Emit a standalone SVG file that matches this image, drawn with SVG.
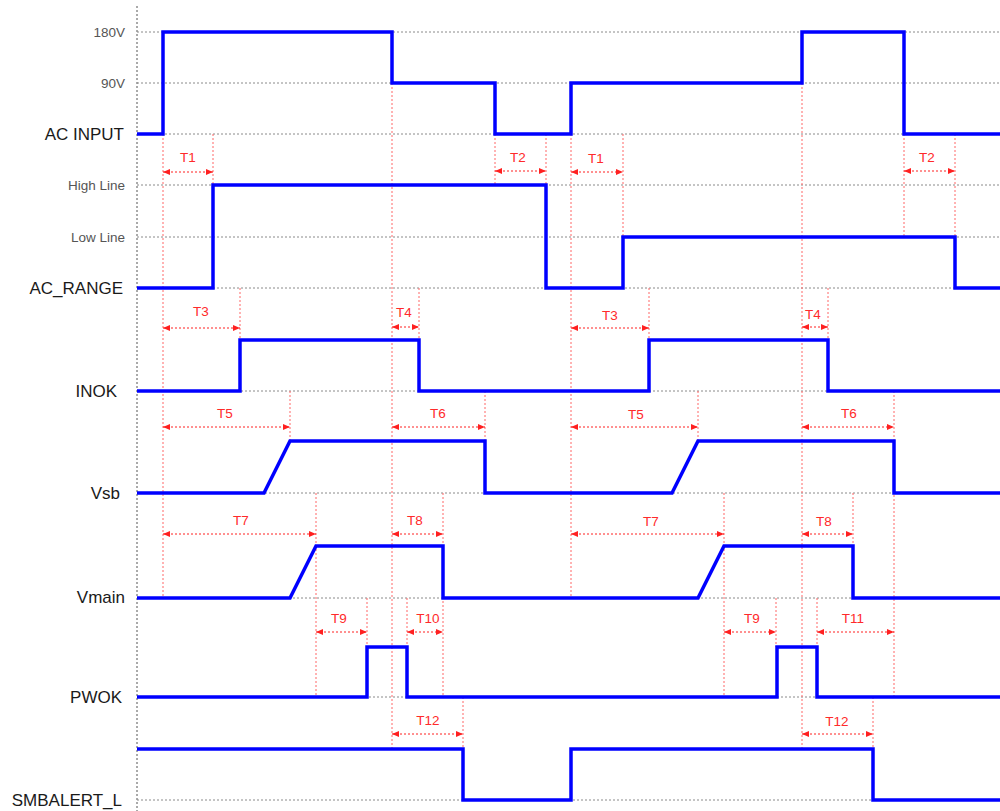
<svg xmlns="http://www.w3.org/2000/svg" width="1000" height="811" viewBox="0 0 1000 811">
<style>
.grid{stroke:#8a8a8a;stroke-width:1;stroke-dasharray:2,2;fill:none}
.axis{stroke:#555;stroke-width:1;stroke-dasharray:2,2;fill:none}
.guide{stroke:#ff6666;stroke-width:1;stroke-dasharray:2,2;fill:none}
.dim{stroke:#ff2020;stroke-width:1;stroke-dasharray:2,2;fill:none;marker-start:url(#ah);marker-end:url(#ah)}
.wave{stroke:#0000ff;stroke-width:3.5;fill:none;stroke-linejoin:miter;stroke-linecap:butt}
.big{font-family:"Liberation Sans",Arial,sans-serif;font-size:17px;fill:#1a1a1a;text-anchor:end}
.small{font-family:"Liberation Sans",Arial,sans-serif;font-size:13.5px;fill:#555;text-anchor:end}
.tl{font-family:"Liberation Sans",Arial,sans-serif;font-size:13.5px;fill:#ff2a2a;text-anchor:middle}
</style>
<defs>
<marker id="ah" viewBox="0 0 7 6" refX="7" refY="3" markerWidth="7" markerHeight="6" markerUnits="userSpaceOnUse" orient="auto-start-reverse">
<path d="M0,0 L7,3 L0,6 z" fill="#ff2020"/>
</marker>
</defs>
<rect width="1000" height="811" fill="#fff"/>
<g id="grid">
<line class="axis" x1="137" y1="6" x2="137" y2="811"/>
<line class="grid" x1="137" y1="32" x2="1000" y2="32"/>
<line class="grid" x1="137" y1="83" x2="1000" y2="83"/>
<line class="grid" x1="137" y1="134" x2="1000" y2="134"/>
<line class="grid" x1="137" y1="185" x2="1000" y2="185"/>
<line class="grid" x1="137" y1="237" x2="1000" y2="237"/>
<line class="grid" x1="137" y1="288" x2="1000" y2="288"/>
<line class="grid" x1="137" y1="391" x2="1000" y2="391"/>
<line class="grid" x1="137" y1="493" x2="1000" y2="493"/>
<line class="grid" x1="137" y1="598" x2="1000" y2="598"/>
<line class="grid" x1="137" y1="697" x2="1000" y2="697"/>
<line class="grid" x1="137" y1="800" x2="1000" y2="800"/>
</g>
<g id="labels">
<text class="small" x="125" y="36.5">180V</text>
<text class="small" x="125" y="87.5">90V</text>
<text class="big" x="124" y="140">AC INPUT</text>
<text class="small" x="125" y="189.5">High Line</text>
<text class="small" x="125" y="241.5">Low Line</text>
<text class="big" x="123" y="294">AC_RANGE</text>
<text class="big" x="117" y="397">INOK</text>
<text class="big" x="120" y="499">Vsb</text>
<text class="big" x="125" y="603">Vmain</text>
<text class="big" x="122" y="703">PWOK</text>
<text class="big" x="122" y="806">SMBALERT_L</text>
</g>
<g id="guides">
<line class="guide" x1="163" y1="134" x2="163" y2="598"/>
<line class="guide" x1="213" y1="134" x2="213" y2="185"/>
<line class="guide" x1="240" y1="288" x2="240" y2="340"/>
<line class="guide" x1="290" y1="391" x2="290" y2="441"/>
<line class="guide" x1="316" y1="493" x2="316" y2="697"/>
<line class="guide" x1="367" y1="598" x2="367" y2="647"/>
<line class="guide" x1="392" y1="83" x2="392" y2="749"/>
<line class="guide" x1="407" y1="598" x2="407" y2="697"/>
<line class="guide" x1="419" y1="288" x2="419" y2="340"/>
<line class="guide" x1="443" y1="493" x2="443" y2="697"/>
<line class="guide" x1="463" y1="697" x2="463" y2="749"/>
<line class="guide" x1="485" y1="391" x2="485" y2="493"/>
<line class="guide" x1="495" y1="134" x2="495" y2="185"/>
<line class="guide" x1="546" y1="134" x2="546" y2="185"/>
<line class="guide" x1="571" y1="134" x2="571" y2="598"/>
<line class="guide" x1="623" y1="134" x2="623" y2="237"/>
<line class="guide" x1="649" y1="288" x2="649" y2="340"/>
<line class="guide" x1="698" y1="391" x2="698" y2="441"/>
<line class="guide" x1="724" y1="493" x2="724" y2="697"/>
<line class="guide" x1="776" y1="598" x2="776" y2="647"/>
<line class="guide" x1="802" y1="83" x2="802" y2="749"/>
<line class="guide" x1="817" y1="598" x2="817" y2="697"/>
<line class="guide" x1="828" y1="288" x2="828" y2="340"/>
<line class="guide" x1="853" y1="493" x2="853" y2="546"/>
<line class="guide" x1="873" y1="697" x2="873" y2="749"/>
<line class="guide" x1="894" y1="391" x2="894" y2="697"/>
<line class="guide" x1="904" y1="134" x2="904" y2="237"/>
<line class="guide" x1="955" y1="134" x2="955" y2="288"/>
</g>
<g id="waves">
<path id="w-ac" class="wave" d="M137,134 H163 V32 H392 V83 H495 V134 H571 V83 H802 V32 H904 V134 H1000"/>
<path id="w-range" class="wave" d="M137,288 H213 V185 H546 V288 H623 V237 H955 V288 H1000"/>
<path id="w-inok" class="wave" d="M137,391 H240 V340 H419 V391 H649 V340 H828 V391 H1000"/>
<path id="w-vsb" class="wave" d="M137,493 H264 L290,441 H485 V493 H672 L698,441 H894 V493 H1000"/>
<path id="w-vmain" class="wave" d="M137,598 H290 L316,546 H443 V598 H698 L724,546 H853 V598 H1000"/>
<path id="w-pwok" class="wave" d="M137,697 H367 V647 H407 V697 H777 V647 H817 V697 H1000"/>
<path id="w-smb" class="wave" d="M137,749 H463 V800 H571 V749 H873 V800 H1000"/>
</g>
<g id="connectors">
<line class="dim" x1="163" y1="172" x2="213" y2="172"/>
<line class="dim" x1="495" y1="171" x2="546" y2="171"/>
<line class="dim" x1="571" y1="172" x2="623" y2="172"/>
<line class="dim" x1="904" y1="171" x2="955" y2="171"/>
<line class="dim" x1="163" y1="328" x2="240" y2="328"/>
<line class="dim" x1="392" y1="327" x2="419" y2="327"/>
<line class="dim" x1="571" y1="328" x2="649" y2="328"/>
<line class="dim" x1="802" y1="327" x2="828" y2="327"/>
<line class="dim" x1="163" y1="427" x2="290" y2="427"/>
<line class="dim" x1="392" y1="427" x2="485" y2="427"/>
<line class="dim" x1="571" y1="427" x2="698" y2="427"/>
<line class="dim" x1="802" y1="427" x2="894" y2="427"/>
<line class="dim" x1="163" y1="534" x2="316" y2="534"/>
<line class="dim" x1="392" y1="534" x2="443" y2="534"/>
<line class="dim" x1="571" y1="534" x2="724" y2="534"/>
<line class="dim" x1="802" y1="534" x2="853" y2="534"/>
<line class="dim" x1="316" y1="632" x2="367" y2="632"/>
<line class="dim" x1="407" y1="632" x2="443" y2="632"/>
<line class="dim" x1="724" y1="632" x2="776" y2="632"/>
<line class="dim" x1="817" y1="632" x2="894" y2="632"/>
<line class="dim" x1="392" y1="734" x2="463" y2="734"/>
<line class="dim" x1="802" y1="734" x2="873" y2="734"/>
</g>
<g id="timing-labels">
<text class="tl" x="188" y="161.5">T1</text>
<text class="tl" x="518" y="161.5">T2</text>
<text class="tl" x="596" y="162.5">T1</text>
<text class="tl" x="927" y="161.5">T2</text>
<text class="tl" x="201" y="315.5">T3</text>
<text class="tl" x="404" y="317">T4</text>
<text class="tl" x="610" y="319.5">T3</text>
<text class="tl" x="813" y="318.5">T4</text>
<text class="tl" x="225" y="417.5">T5</text>
<text class="tl" x="438" y="417.5">T6</text>
<text class="tl" x="636" y="418.5">T5</text>
<text class="tl" x="849" y="417.5">T6</text>
<text class="tl" x="241" y="525">T7</text>
<text class="tl" x="415" y="525">T8</text>
<text class="tl" x="651" y="525.5">T7</text>
<text class="tl" x="824" y="525.5">T8</text>
<text class="tl" x="339" y="622.5">T9</text>
<text class="tl" x="428" y="622.5">T10</text>
<text class="tl" x="752" y="622.5">T9</text>
<text class="tl" x="853" y="622.5">T11</text>
<text class="tl" x="428" y="725">T12</text>
<text class="tl" x="837" y="725.5">T12</text>
</g>
</svg>
